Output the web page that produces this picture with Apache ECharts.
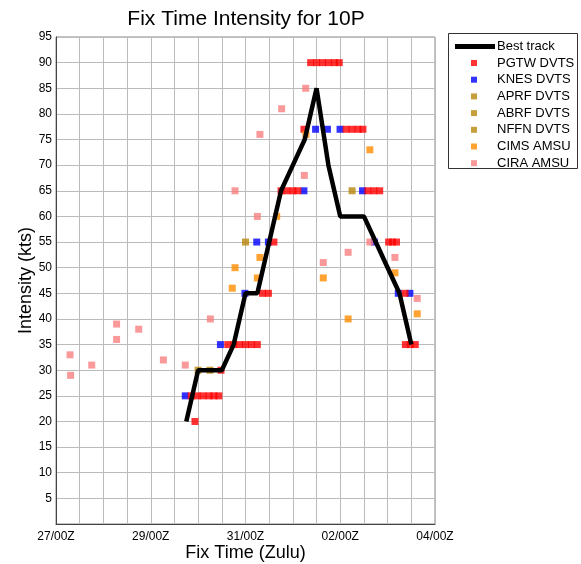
<!DOCTYPE html>
<html>
	<head>
		<meta charset="utf-8">
		<title>Fix Time Intensity for 10P</title>
		<script src="https://cdn.jsdelivr.net/npm/echarts@6/dist/echarts.min.js"></script>
		<style>
			body { margin: 0; background: #fff; }
		</style>
	</head>
	<body>
		<div id="main" style="width: 581px;height:564px;"></div>
		<script type="text/javascript">
			// x = hours after 27/00Z, y = intensity (kts)
			var xTickLabels = { 0: '27/00Z', 48: '29/00Z', 96: '31/00Z', 144: '02/00Z', 192: '04/00Z' };

			var bestTrack = [
				[66, 20], [72, 30], [78, 30], [84, 30], [90, 35], [96, 45], [102, 45], [108, 55],
				[114, 65], [120, 70], [126, 75], [132, 85], [138, 70], [144, 60], [150, 60],
				[156, 60], [162, 55], [168, 50], [174, 45], [180, 35]
			];
			var pgtw = [
				[70.4, 20],
				[68.5, 25], [71.5, 25], [74.5, 25], [77.5, 25], [80, 25], [82.5, 25],
				[83.6, 30],
				[87, 35], [90, 35], [93, 35], [96, 35], [99, 35], [102, 35],
				[104.6, 45], [107.6, 45],
				[110.4, 55],
				[114, 65], [117, 65], [120, 65], [122.5, 65],
				[125.6, 77], [147, 77], [150, 77], [153, 77], [155.5, 77],
				[129, 90], [132, 90], [135, 90], [138, 90], [141, 90], [143.5, 90],
				[158, 65], [161, 65], [164, 65],
				[168.5, 55], [170.5, 55], [172.5, 55],
				[176.8, 45],
				[177, 35], [179.5, 35], [182, 35]
			];
			var knes = [
				[65.5, 25], [83.3, 35], [95.7, 45], [101.7, 55], [107.6, 55], [125.6, 65],
				[131.5, 77], [137.5, 77], [143.9, 77], [155.3, 65], [161.3, 55], [173.4, 45], [179.3, 45]
			];
			var aprf = [[72, 30], [96, 55]];
			var abrf = [[78, 30]];
			var nffn = [[150, 65]];
			var cims = [
				[89.3, 46], [90.7, 50], [102, 48], [103.3, 52], [111.8, 60], [126.6, 76],
				[135.4, 48], [148, 40], [159, 73], [171.7, 49], [183, 41]
			];
			var cira = [
				[7.1, 33], [7.4, 29], [18.1, 31], [30.7, 39], [30.7, 36], [41.9, 38], [54.4, 32],
				[65.5, 31], [78.2, 40], [90.7, 65], [102, 60], [103.3, 76], [114.3, 81], [125.8, 68],
				[126.5, 85], [135.4, 51], [148, 53], [159, 55], [171.7, 52], [183, 44]
			];

			var myChart = echarts.init(document.getElementById('main'));
			var font = 'Liberation Sans, Arial, Helvetica, sans-serif';

			function dots(name, data, color) {
				return {
					name: name,
					type: 'scatter',
					symbol: 'rect',
					symbolSize: 7,
					itemStyle: { color: color },
					data: data,
					z: 2
				};
			}

			var option = {
				animation: false,
				backgroundColor: '#fff',
				title: {
					text: 'Fix Time Intensity for 10P',
					left: 241,
					textAlign: 'center',
					top: 4,
					textStyle: { fontFamily: font, fontSize: 21, fontWeight: 'normal', color: '#000' }
				},
				grid: {
					left: 56,
					right: 146,
					top: 37,
					bottom: 40,
					outerBoundsMode: 'none',
					containLabel: false,
					show: true,
					borderColor: '#888',
					borderWidth: 1
				},
				legend: [
					{
						orient: 'vertical',
						left: 450,
						top: 35,
						itemWidth: 40,
						itemHeight: 5,
						itemGap: 2,
						textStyle: { fontFamily: font, fontSize: 13, color: '#000', padding: [0, 0, 0, -3] },
						data: [{ name: 'Best track', icon: 'rect' }]
					},
					{
						orient: 'vertical',
						left: 466,
						top: 51,
						itemWidth: 6,
						itemHeight: 6,
						itemGap: 2.7,
						textStyle: { fontFamily: font, fontSize: 13, color: '#000', lineHeight: 14, padding: [0, 0, 0, 15] },
						data: ['PGTW DVTS', 'KNES DVTS', 'APRF DVTS', 'ABRF DVTS', 'NFFN DVTS', 'CIMS AMSU', 'CIRA AMSU']
					}
				],
				graphic: [
					{
						type: 'rect',
						shape: { x: 448.5, y: 33.5, width: 129, height: 135 },
						style: { fill: 'none', stroke: '#333', lineWidth: 1 }
					}
				],
				xAxis: {
					type: 'value',
					min: 0,
					max: 192,
					interval: 12,
					name: 'Fix Time (Zulu)',
					nameLocation: 'middle',
					nameGap: 20,
					nameMoveOverlap: false,
					nameTextStyle: { fontFamily: font, fontSize: 18, color: '#000' },
					axisLine: { lineStyle: { color: '#444' } },
					axisTick: { show: false },
					axisLabel: {
						fontFamily: font,
						fontSize: 12,
						color: '#000',
						margin: 7,
						showMinLabel: true,
						showMaxLabel: true,
						formatter: function (v) { return xTickLabels[v] || ''; }
					},
					splitLine: { show: true, lineStyle: { color: '#bbb' } }
				},
				yAxis: {
					type: 'value',
					min: 0,
					max: 95,
					interval: 5,
					name: 'Intensity (kts)',
					nameLocation: 'middle',
					nameGap: 21,
					nameMoveOverlap: false,
					nameTextStyle: { fontFamily: font, fontSize: 18, color: '#000' },
					axisLine: { show: true, lineStyle: { color: '#444' } },
					axisTick: { show: false },
					axisLabel: {
						fontFamily: font,
						fontSize: 12,
						color: '#000',
						margin: 4,
						formatter: function (v) { return v === 0 ? '' : v; }
					},
					splitLine: { show: true, lineStyle: { color: '#bbb' } }
				},
				series: [
					{
						name: 'Best track',
						type: 'line',
						showSymbol: false,
						symbol: 'none',
						lineStyle: { color: '#000', width: 4.5 },
						itemStyle: { color: '#000' },
						data: bestTrack,
						z: 5
					},
					dots('KNES DVTS', knes, '#0000ff'),
					dots('PGTW DVTS', pgtw, '#ff0000'),
					dots('APRF DVTS', aprf, '#b8860b'),
					dots('ABRF DVTS', abrf, '#b8860b'),
					dots('NFFN DVTS', nffn, '#b8860b'),
					dots('CIMS AMSU', cims, '#ff8c00'),
					dots('CIRA AMSU', cira, '#f88080')
				]
			};

			option && myChart.setOption(option);
		</script>
	</body>
</html>
